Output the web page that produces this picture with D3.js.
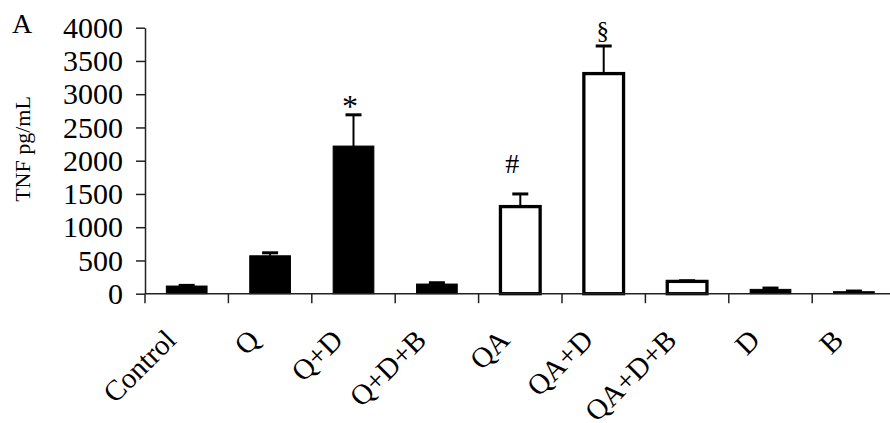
<!DOCTYPE html>
<html>
<head>
<meta charset="utf-8">
<script src="https://cdn.jsdelivr.net/npm/d3@7/dist/d3.min.js"></script>
<style>
  html, body { margin: 0; padding: 0; background: #fff; }
  svg { display: block; }
  text { font-family: "Liberation Serif", "Times New Roman", Times, serif; fill: #000; }
</style>
</head>
<body>
<svg id="chart" width="890" height="423"></svg>
<script>
// TNF release per treatment group (pg/mL), mean and upper error
const groups  = ["Control", "Q", "Q+D", "Q+D+B", "QA", "QA+D", "QA+D+B", "D", "B"];
const tnf     = [115, 570, 2220, 145, 1310, 3310, 185, 65, 30];
const tnfErr  = [10, 45, 470, 20, 190, 415, 10, 20, 10];
const barKind = ["solid", "solid", "solid", "solid", "open", "open", "open", "solid", "solid"];
const marks   = ["", "", "*", "", "#", "§", "", "", ""];
const yTicks  = [0, 500, 1000, 1500, 2000, 2500, 3000, 3500, 4000];

const svg = d3.select("#chart");

const x = d3.scaleBand()
  .domain(groups)
  .range([145, 145 + 9 * 83.4])
  .paddingInner(0.5)
  .paddingOuter(0.25);

const y = d3.scaleLinear()
  .domain([0, 4000])
  .range([293.7, 27.7]);

const bw = x.bandwidth();
const rows = groups.map((g, i) => ({ g, v: tnf[i], e: tnfErr[i], kind: barKind[i], mark: marks[i] }));

// y axis
const yAxis = svg.append("g")
  .attr("transform", `translate(${x.range()[0]},0)`)
  .call(d3.axisLeft(y).tickValues(yTicks).tickFormat(d3.format("d"))
    .tickSize(9).tickPadding(13).tickSizeOuter(0));
yAxis.select(".domain").attr("stroke", "#222").attr("stroke-width", 1.5);
yAxis.selectAll(".tick line").attr("stroke", "#222").attr("stroke-width", 1.5);
yAxis.selectAll(".tick text")
  .style("font-family", '"Liberation Serif", "Times New Roman", serif')
  .style("font-size", "30px")
  .attr("fill", "#000");

// bars
svg.append("g").selectAll("rect")
  .data(rows)
  .join("rect")
  .attr("x", d => x(d.g) + (d.kind === "open" ? 1 : 0.5))
  .attr("width", d => bw - (d.kind === "open" ? 2 : 1))
  .attr("y", d => y(d.v))
  .attr("height", d => y(0) - y(d.v))
  .attr("fill", d => d.kind === "open" ? "#fff" : "#000")
  .attr("stroke", "#000")
  .attr("stroke-width", d => d.kind === "open" ? 3.3 : 1);

// upper error bars
const eb = svg.append("g").selectAll("g")
  .data(rows)
  .join("g")
  .attr("stroke", "#000");
eb.append("line")
  .attr("x1", d => x(d.g) + bw / 2)
  .attr("x2", d => x(d.g) + bw / 2)
  .attr("y1", d => y(d.v))
  .attr("y2", d => y(d.v + d.e))
  .attr("stroke-width", 2);
eb.append("line")
  .attr("x1", d => x(d.g) + bw / 2 - 8)
  .attr("x2", d => x(d.g) + bw / 2 + 8)
  .attr("y1", d => y(d.v + d.e))
  .attr("y2", d => y(d.v + d.e))
  .attr("stroke-width", 3);

// x axis line and group separators
const xAxis = svg.append("g");
xAxis.append("line")
  .attr("x1", x.range()[0]).attr("x2", x.range()[1])
  .attr("y1", y(0)).attr("y2", y(0))
  .attr("stroke", "#222").attr("stroke-width", 1.5);
xAxis.selectAll("line.sep")
  .data(groups)
  .join("line")
  .attr("class", "sep")
  .attr("x1", d => x(d) - x.step() * x.paddingInner() / 2)
  .attr("x2", d => x(d) - x.step() * x.paddingInner() / 2)
  .attr("y1", y(0))
  .attr("y2", y(0) + 9.5)
  .attr("stroke", "#222").attr("stroke-width", 1.5);

// rotated group labels
svg.append("g").selectAll("text")
  .data(groups)
  .join("text")
  .attr("transform", d => `translate(${x(d) + bw / 2 - 9},${y(0) + 48}) rotate(-45)`)
  .attr("text-anchor", "end")
  .style("font-size", "29px")
  .text(d => d);

// significance symbols above error bars
const markLift = { "*": -2, "#": 21, "§": 7 };
const markShift = { "*": -3.5, "#": -8, "§": -1 };
svg.append("g").selectAll("text")
  .data(rows.filter(d => d.mark))
  .join("text")
  .attr("x", d => x(d.g) + bw / 2 + markShift[d.mark])
  .attr("y", d => y(d.v + d.e) - markLift[d.mark])
  .attr("text-anchor", "middle")
  .style("font-size", d => d.mark === "*" ? "32px" : d.mark === "§" ? "25px" : "28px")
  .text(d => d.mark);

// y axis title
svg.append("text")
  .attr("transform", "translate(30,149) rotate(-90)")
  .attr("text-anchor", "middle")
  .style("font-size", "22px")
  .text("TNF pg/mL");

// panel letter
svg.append("text")
  .attr("x", 12)
  .attr("y", 33)
  .style("font-size", "28px")
  .text("A");
</script>
</body>
</html>
